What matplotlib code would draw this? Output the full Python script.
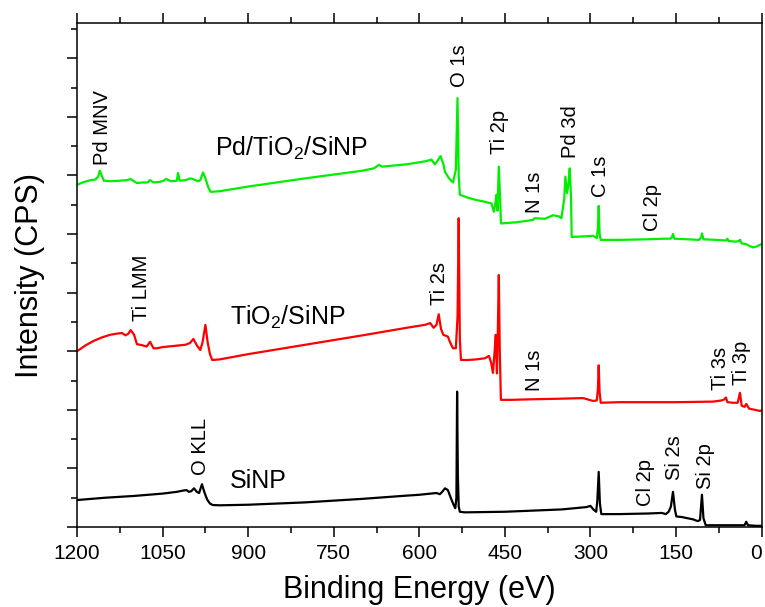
import matplotlib
matplotlib.use('Agg')
import matplotlib.pyplot as plt
from matplotlib.ticker import MultipleLocator

plt.rcParams['font.family'] = ['Liberation Sans', 'DejaVu Sans']
plt.rcParams['mathtext.fontset'] = 'custom'
plt.rcParams['mathtext.rm'] = 'Liberation Sans'
plt.rcParams['mathtext.it'] = 'Liberation Sans:italic'

# SiNP survey
be_sinp = [1200, 1150, 1100, 1050, 1025, 1015, 1008, 1004, 1000, 995,
           990, 986, 981, 977, 972, 967, 962, 950, 900, 800,
           700, 630, 600, 570, 564, 560, 555, 550, 545, 540,
           537, 535, 533.8, 532.5, 531, 529, 520, 450, 400, 350,
           307, 300, 295, 290, 288, 285.6, 283.5, 281, 250, 200,
           175, 168, 163, 159, 155.4, 152, 149.5, 140, 130, 120,
           112, 108, 104.6, 102, 98, 60, 30, 27, 24, 10,
           0]
int_sinp = [0.46, 0.50, 0.53, 0.57, 0.60, 0.62, 0.63, 0.60, 0.61, 0.66,
            0.60, 0.58, 0.73, 0.60, 0.47, 0.40, 0.375, 0.37, 0.38, 0.42,
            0.48, 0.53, 0.55, 0.58, 0.56, 0.60, 0.66, 0.63, 0.50, 0.38,
            0.32, 0.50, 2.31, 0.90, 0.35, 0.26, 0.25, 0.26, 0.28, 0.30,
            0.34, 0.36, 0.30, 0.26, 0.45, 0.94, 0.40, 0.22, 0.22, 0.23,
            0.24, 0.22, 0.26, 0.35, 0.60, 0.30, 0.18, 0.17, 0.15, 0.13,
            0.10, 0.12, 0.55, 0.15, 0.03, 0.03, 0.03, 0.09, 0.03, 0.02,
            0.02]

# TiO2/SiNP survey
be_tio2 = [1200, 1185, 1170, 1155, 1142, 1130, 1121, 1115, 1110, 1106,
           1100, 1095, 1085, 1078, 1072, 1066, 1060, 1050, 1030, 1010,
           1002, 996, 990, 984, 980, 975, 971, 967, 963, 950,
           900, 800, 700, 622, 590, 581, 575, 570, 566, 562,
           558, 550, 546, 541, 536, 533, 531, 529, 527, 515,
           500, 485, 478, 474, 471, 468, 466, 464, 462.5, 460.7,
           459, 457, 440, 400, 350, 313, 295, 289, 287, 285.6,
           284, 282, 250, 150, 85, 70, 65, 62.6, 60, 50,
           42, 38, 35, 30, 27, 22, 12, 3, 0]
int_tio2 = [3.00, 3.10, 3.18, 3.24, 3.28, 3.30, 3.31, 3.27, 3.30, 3.36,
            3.28, 3.12, 3.10, 3.08, 3.16, 3.05, 3.05, 3.07, 3.09, 3.11,
            3.14, 3.21, 3.10, 3.02, 3.15, 3.45, 3.15, 2.95, 2.85, 2.86,
            2.95, 3.11, 3.27, 3.40, 3.45, 3.48, 3.40, 3.45, 3.63, 3.38,
            3.28, 3.25, 3.15, 3.05, 3.05, 3.60, 5.27, 3.20, 2.85, 2.85,
            2.86, 2.88, 2.92, 2.80, 2.63, 3.00, 3.28, 2.62, 3.30, 4.30,
            3.00, 2.17, 2.17, 2.18, 2.19, 2.20, 2.15, 2.16, 2.35, 2.76,
            2.30, 2.12, 2.13, 2.13, 2.14, 2.16, 2.18, 2.21, 2.13, 2.12,
            2.12, 2.29, 2.07, 2.05, 2.10, 2.02, 2.00, 1.98, 1.99]

# Pd/TiO2/SiNP survey
be_pd = [1200, 1190, 1176, 1168, 1163, 1160, 1156, 1153, 1142, 1125,
         1112, 1106, 1100, 1095, 1085, 1076, 1072, 1066, 1055, 1048,
         1044, 1035, 1025, 1023, 1020, 1010, 1001, 995, 988, 984,
         981, 979, 975, 970, 966, 950, 900, 800, 700, 680,
         675, 671, 665, 622, 590, 578.6, 573, 568, 563, 558,
         555, 548, 541, 536, 533.1, 531, 529, 515, 500, 485,
         473.5, 469.5, 467, 464.8, 463, 460.7, 458, 457, 430, 401,
         398, 380, 365.6, 355, 351, 346, 344, 341, 338, 336.4,
         334, 333, 310, 295.5, 289, 287, 285.6, 284, 282, 250,
         200, 170, 160, 157, 155.4, 153, 130, 110, 106, 104.6,
         102, 80, 62, 60, 58, 45, 40, 38, 35, 28,
         22, 14.7, 8, 2, 0]
int_pd = [5.84, 5.88, 5.92, 5.93, 5.98, 6.08, 5.98, 5.91, 5.90, 5.91,
          5.92, 5.94, 5.90, 5.87, 5.88, 5.88, 5.92, 5.88, 5.89, 5.91,
          5.94, 5.90, 5.91, 6.04, 5.91, 5.92, 5.95, 5.93, 5.90, 5.92,
          6.00, 6.05, 5.95, 5.80, 5.72, 5.73, 5.81, 5.95, 6.08, 6.12,
          6.15, 6.18, 6.15, 6.19, 6.24, 6.27, 6.19, 6.25, 6.33, 6.20,
          6.06, 5.95, 5.88, 6.10, 7.32, 6.00, 5.67, 5.62, 5.58, 5.55,
          5.52, 5.38, 5.50, 5.67, 5.40, 6.15, 5.50, 5.18, 5.20, 5.24,
          5.27, 5.26, 5.32, 5.30, 5.27, 5.60, 5.98, 5.70, 5.90, 6.12,
          5.60, 4.95, 4.96, 4.97, 4.93, 5.10, 5.48, 5.00, 4.90, 4.90,
          4.91, 4.92, 4.92, 4.95, 5.00, 4.92, 4.91, 4.90, 4.94, 5.01,
          4.91, 4.90, 4.89, 4.92, 4.88, 4.87, 4.88, 4.90, 4.84, 4.83,
          4.80, 4.77, 4.79, 4.82, 4.83]

# peak assignments (rotated labels)
peak_text = ['Pd MNV', 'O 1s', 'Ti 2p', 'N 1s', 'Pd 3d', 'C 1s', 'Cl 2p',
             'Ti LMM', 'Ti 2s', 'N 1s', 'Ti 3s', 'Ti 3p',
             'O KLL', 'Cl 2p', 'Si 2s', 'Si 2p']
peak_be = [1155, 529, 459, 398, 335, 282, 191,
           1087, 564, 398, 72, 35,
           984, 203, 152, 98]
peak_y = [6.81, 7.88, 6.74, 5.72, 6.75, 5.98, 5.45,
          4.09, 4.15, 2.68, 2.70, 2.80,
          1.37, 0.76, 1.19, 1.04]

# sample names
sample_text = ['Pd/TiO$_2$/SiNP', 'TiO$_2$/SiNP', 'SiNP']
sample_be = [958, 932, 932]
sample_y = [6.33, 3.45, 0.66]

x_ticks = [0, 150, 300, 450, 600, 750, 900, 1050, 1200]

fig = plt.figure(figsize=(7.65, 6.07), dpi=100)
ax = fig.add_axes([0.1007, 0.1318, 0.8949, 0.8302])

ax.plot(be_sinp, int_sinp, color='black', lw=1.6)
ax.plot(be_tio2, int_tio2, color='#ff0000', lw=1.6)
ax.plot(be_pd, int_pd, color='#00ee00', lw=1.6)

for t, x, y in zip(peak_text, peak_be, peak_y):
    ax.text(x, y, t, rotation=90, ha='center', va='center', fontsize=14.5)
for t, x, y in zip(sample_text, sample_be, sample_y):
    ax.text(x, y, t, ha='left', va='baseline', fontsize=18)

ax.set_xlim(1200, 0)
ax.set_ylim(0, 8.6)
ax.set_xticks(x_ticks)
ax.set_xticklabels([str(v) for v in x_ticks])
ax.xaxis.set_minor_locator(MultipleLocator(75))
ax.yaxis.set_major_locator(MultipleLocator(1))
ax.yaxis.set_minor_locator(MultipleLocator(0.5))
ax.tick_params(which='both', direction='out', top=True, right=False,
               labelleft=False, width=1.1, labelsize=15, pad=5)
ax.tick_params(which='major', length=7)
ax.tick_params(which='minor', length=4)
for s in ax.spines.values():
    s.set_linewidth(1.1)
# keep the "0" at the right edge inside the figure
ax.get_xticklabels()[0].set_horizontalalignment('right')

ax.set_xlabel('Binding Energy (eV)', fontsize=22, labelpad=9)
ax.set_ylabel('Intensity (CPS)', fontsize=22, labelpad=16)

fig.savefig('out.png', dpi=100)
